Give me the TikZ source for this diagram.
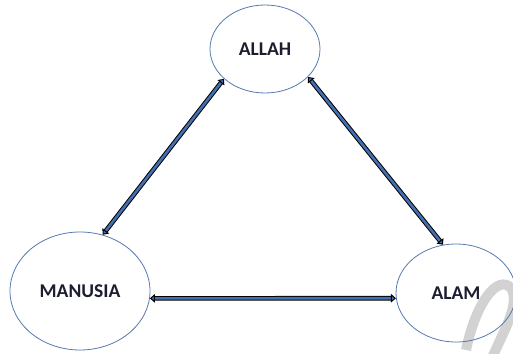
\documentclass[tikz,border=0pt]{standalone}
\usepackage{fontspec}
\setmainfont{Carlito}
\usepackage{xcolor}
\usetikzlibrary{shapes.geometric,arrows.meta}
\definecolor{rim}{RGB}{84,122,172}
\definecolor{shaft}{RGB}{68,112,178}
\definecolor{ink}{RGB}{28,30,48}
\begin{document}
\begin{tikzpicture}[x=1pt, y=-1pt]
\tikzstyle{every node}=[ellipse, draw=rim, line width=0.8pt,
                        inner sep=0pt, text=ink,
                        font=\fontsize{19.5}{21}\selectfont\bfseries]
\tikzstyle{link}=[draw=black, line width=1pt, double=shaft,
                  double distance=2.6pt,
                  {Triangle[length=5pt,width=8.5pt,fill=shaft]}-{Triangle[length=5pt,width=8.5pt,fill=shaft]}]
\useasboundingbox (0,0) rectangle (513,353);
% watermark stroke
\draw[gray!35, line width=10pt] (466,350) .. controls (476,302) and (498,274) .. (511,288)
      .. controls (521,304) and (502,334) .. (492,358);
\node[minimum width=110pt, minimum height=88pt] (Allah) at (265,49) {ALLAH};
\node[minimum width=140pt, minimum height=118pt] (Manusia) at (80,291) {MANUSIA};
\node[minimum width=120pt, minimum height=98pt] (Alam) at (456,293) {ALAM};
\foreach \i/\j in {Manusia.68/Allah.216, Allah.327/Alam.105, Manusia.-6/Alam.185}{\draw[link] (\i) -- (\j);}
\end{tikzpicture}
\end{document}
